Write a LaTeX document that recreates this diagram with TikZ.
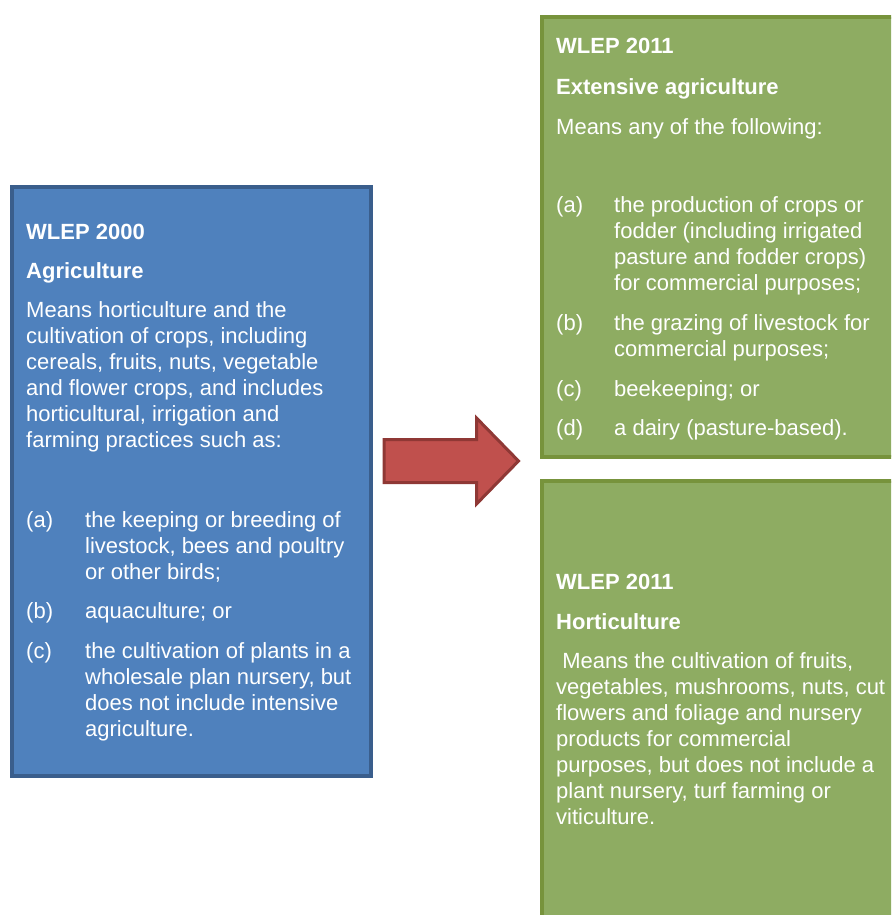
\documentclass[tikz,border=0pt]{standalone}
\usepackage{fontspec}
\setmainfont{Liberation Sans}
\usetikzlibrary{positioning}

\definecolor{oldfill}{HTML}{4F81BD}
\definecolor{oldline}{HTML}{3A5E8C}
\definecolor{newfill}{HTML}{8EAC62}
\definecolor{newline}{HTML}{77933C}
\definecolor{arrowfill}{HTML}{C0504D}
\definecolor{arrowline}{HTML}{8F3835}

\begin{document}
\begin{tikzpicture}[x=1pt,y=-1pt,
    oldbox/.style={draw=oldline, fill=oldfill, line width=4pt, inner sep=0pt, anchor=north west},
    newbox/.style={draw=newline, fill=newfill, line width=4pt, inner sep=0pt, anchor=north west},
    title/.style={anchor=base west, inner sep=0pt, text=white, font=\fontsize{22}{26}\selectfont\bfseries},
    body/.style={anchor=base west, inner sep=0pt, text=white, align=left, font=\fontsize{22}{26}\selectfont}]
                \useasboundingbox (0,0) rectangle (891,915);
                \clip (0,0) rectangle (891,915);

                %Boxes
                \node[oldbox, minimum width=358.4pt, minimum height=589pt] (old) at (10.3,185) {};
                \node[newbox, minimum width=420pt, minimum height=439.7pt] (ext) at (540.3,15) {};
                \node[newbox, minimum width=420pt, minimum height=480pt] (hort) at (540.3,479) {};

                %Arrow
                \draw[arrowline, fill=arrowfill, line width=3pt, line join=miter]
                    (384,439.5) -- (476.5,439.5) -- (476.5,418) -- (518.5,461)
                    -- (476.5,504) -- (476.5,482.5) -- (384,482.5) -- cycle;

                %Old definition (base = last line)
                \node[title] (oldyear) at (26,239) {WLEP 2000};
                \node[title] (oldterm) at (26,278) {Agriculture};
                \node[body]  (olddef)  at (26,447.5) {Means horticulture and the\\cultivation of crops, including\\cereals, fruits, nuts, vegetable\\and flower crops, and includes\\horticultural, irrigation and\\farming practices such as:};
                \node[body]  (olda)    at (26,527.5) {(a)};
                \node[body]  (oldatxt) at (85,579.5) {the keeping or breeding of\\livestock, bees and poultry\\or other birds;};
                \node[body]  (oldb)    at (26,618.5) {(b)};
                \node[body]  (oldbtxt) at (85,618.5) {aquaculture; or};
                \node[body]  (oldc)    at (26,658.5) {(c)};
                \node[body]  (oldctxt) at (85,736.5) {the cultivation of plants in a\\wholesale plan nursery, but\\does not include intensive\\agriculture.};

                %Extensive agriculture
                \node[title] (extyear) at (556,53.3) {WLEP 2011};
                \node[title] (extterm) at (556,95) {Extensive agriculture};
                \node[body]  (extdef)  at (556,134.5) {Means any of the following:};
                \node[body]  (exta)    at (556,212.5) {(a)};
                \node[body]  (extatxt) at (614,290.5) {the production of crops or\\fodder (including irrigated\\pasture and fodder crops)\\for commercial purposes;};
                \node[body]  (extb)    at (556,330.5) {(b)};
                \node[body]  (extbtxt) at (614,356.5) {the grazing of livestock for\\commercial purposes;};
                \node[body]  (extc)    at (556,396.5) {(c)};
                \node[body]  (extctxt) at (614,396.5) {beekeeping; or};
                \node[body]  (extd)    at (556,435.5) {(d)};
                \node[body]  (extdtxt) at (614,435.5) {a dairy (pasture-based).};

                %Horticulture
                \node[title] (hortyear) at (556,589) {WLEP 2011};
                \node[title] (hortterm) at (556,629) {Horticulture};
                \node[body]  (hortdef)  at (556,824.5) {\ Means the cultivation of fruits,\\vegetables, mushrooms, nuts, cut\\flowers and foliage and nursery\\products for commercial\\purposes, but does not include a\\plant nursery, turf farming or\\viticulture.};
            \end{tikzpicture}
\end{document}
